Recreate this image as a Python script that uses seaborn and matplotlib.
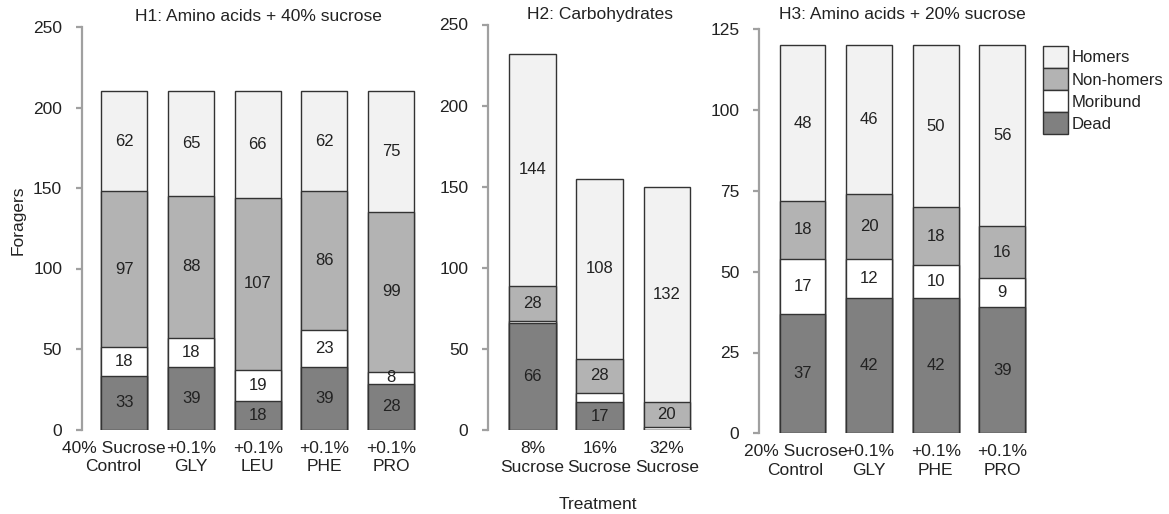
import matplotlib
matplotlib.use("Agg")
import matplotlib.pyplot as plt
import matplotlib.transforms as mtrans
import seaborn as sns
import numpy as np
from matplotlib.patches import Patch

# ---------------- data ----------------
series_names = ["Homers", "Non-homers", "Moribund", "Dead"]

h1_cats = ["40% Sucrose\nControl", "+0.1%\nGLY", "+0.1%\nLEU", "+0.1%\nPHE", "+0.1%\nPRO"]
h1_dead = [33, 39, 18, 39, 28]
h1_mori = [18, 18, 19, 23, 8]
h1_non = [97, 88, 107, 86, 99]
h1_hom = [62, 65, 66, 62, 75]

h2_cats = ["8%\nSucrose", "16%\nSucrose", "32%\nSucrose"]
h2_dead = [66, 17, 0]
h2_mori = [1, 6, 2]
h2_non = [22, 21, 15]
h2_hom = [143, 111, 133]
h2_dead_lbl = ["66", "17", ""]
h2_mori_lbl = ["", "", ""]
h2_non_lbl = ["28", "28", "20"]
h2_hom_lbl = ["144", "108", "132"]

h3_cats = ["20% Sucrose\nControl", "+0.1%\nGLY", "+0.1%\nPHE", "+0.1%\nPRO"]
h3_dead = [37, 42, 42, 39]
h3_mori = [17, 12, 10, 9]
h3_non = [18, 20, 18, 16]
h3_hom = [48, 46, 50, 56]

h1_yticks = [0, 50, 100, 150, 200, 250]
h2_yticks = [0, 50, 100, 150, 200, 250]
h3_yticks = [0, 25, 50, 75, 100, 125]

titles = ["H1: Amino acids + 40% sucrose", "H2: Carbohydrates", "H3: Amino acids + 20% sucrose"]

# ---------------- style ----------------
sns.set_style("white")
plt.rcParams["font.family"] = ["Liberation Sans", "DejaVu Sans"]
TXT = "#222222"
SPINE = "#a0a0a0"
EDGE = "#333333"
colors = {"Homers": "#f2f2f2", "Non-homers": "#b3b3b3", "Moribund": "#ffffff", "Dead": "#808080"}
FS = 12.5

W, H = 1169, 514
fig = plt.figure(figsize=(W / 100, H / 100), dpi=100)


def px_axes(left, right, top, bottom):
    return fig.add_axes([left / W, 1 - bottom / H, (right - left) / W, (bottom - top) / H])


ax1 = px_axes(82, 434, 27, 429.5)
ax2 = px_axes(488.3, 711, 24.5, 430)
ax3 = px_axes(759.3, 1045, 29.3, 433.3)


def draw_panel(ax, cats, dead, mori, non, hom, labels, yticks, xlim, title, tpad, first_shift):
    layers = [("Dead", dead), ("Moribund", mori), ("Non-homers", non), ("Homers", hom)]
    cum = np.zeros(len(cats))
    bottoms = []
    for name, vals in layers:
        bottoms.append(cum.copy())
        cum = cum + np.array(vals, dtype=float)
    tops = [bottoms[i] + np.array(layers[i][1], dtype=float) for i in range(4)]
    # cumulative bars, tallest first
    for i in reversed(range(4)):
        name = layers[i][0]
        sns.barplot(x=list(range(len(cats))), y=tops[i], order=list(range(len(cats))),
                    color=colors[name], saturation=1, edgecolor=EDGE, linewidth=1,
                    width=0.69, errorbar=None, ax=ax, zorder=2 + (3 - i))
    for i in range(4):
        vals = layers[i][1]
        for j in range(len(cats)):
            lbl = labels[i][j]
            if lbl:
                ax.text(j, bottoms[i][j] + vals[j] / 2, lbl, ha="center", va="center",
                        fontsize=12, color=TXT, zorder=10)
    ax.set_xlim(*xlim)
    ax.set_ylim(yticks[0], yticks[-1])
    ax.set_yticks(yticks)
    ax.set_yticklabels([str(t) for t in yticks])
    ax.set_xticks(range(len(cats)))
    ax.set_xticklabels(cats, linespacing=1.3)
    ax.set_xlabel("")
    ax.set_ylabel("")
    for s in ["top", "right", "bottom"]:
        ax.spines[s].set_visible(False)
    ax.spines["left"].set_color(SPINE)
    ax.spines["left"].set_linewidth(1.6)
    ax.tick_params(axis="y", length=4.3, width=1.6, color=SPINE, pad=10, labelsize=FS,
                   labelcolor=TXT, left=True)
    ax.tick_params(axis="x", length=0, pad=8, labelsize=FS, labelcolor=TXT)
    ax.set_facecolor("none")
    ax.set_title(title, fontsize=FS, color=TXT, pad=tpad)
    if first_shift:
        lab = ax.get_xticklabels()[0]
        lab.set_transform(lab.get_transform() +
                          mtrans.ScaledTranslation(first_shift / 100, 0, fig.dpi_scale_trans))


lab1 = [[str(v) for v in h1_dead], [str(v) for v in h1_mori], [str(v) for v in h1_non], [str(v) for v in h1_hom]]
lab2 = [h2_dead_lbl, h2_mori_lbl, h2_non_lbl, h2_hom_lbl]
lab3 = [[str(v) for v in h3_dead], [str(v) for v in h3_mori], [str(v) for v in h3_non], [str(v) for v in h3_hom]]

draw_panel(ax1, h1_cats, h1_dead, h1_mori, h1_non, h1_hom, lab1, h1_yticks, (-0.637, 4.643), titles[0], 4.3, -11)
draw_panel(ax2, h2_cats, h2_dead, h2_mori, h2_non, h2_hom, lab2, h2_yticks, (-0.654, 2.655), titles[1], 4.3, 0)
draw_panel(ax3, h3_cats, h3_dead, h3_mori, h3_non, h3_hom, lab3, h3_yticks, (-0.649, 3.641), titles[2], 7.2, -7)

ax1.set_ylabel("Foragers", fontsize=FS, color=TXT)
ax1.yaxis.set_label_coords((26 - 82) / 352, 0.52)
ax2.set_xlabel("Treatment", fontsize=FS, color=TXT)
ax2.xaxis.set_label_coords(0.49, -0.165)

handles = [Patch(facecolor=colors[n], edgecolor=EDGE, linewidth=1) for n in series_names]
fig.legend(handles, series_names, loc="upper left", bbox_to_anchor=(1042.7 / W, 1 - 46 / H),
           frameon=False, borderpad=0, borderaxespad=0, handlelength=1.5, handleheight=1.66,
           labelspacing=0, handletextpad=0.25, fontsize=12, labelcolor=TXT)

fig.savefig("out.png", dpi=100, facecolor="white")
